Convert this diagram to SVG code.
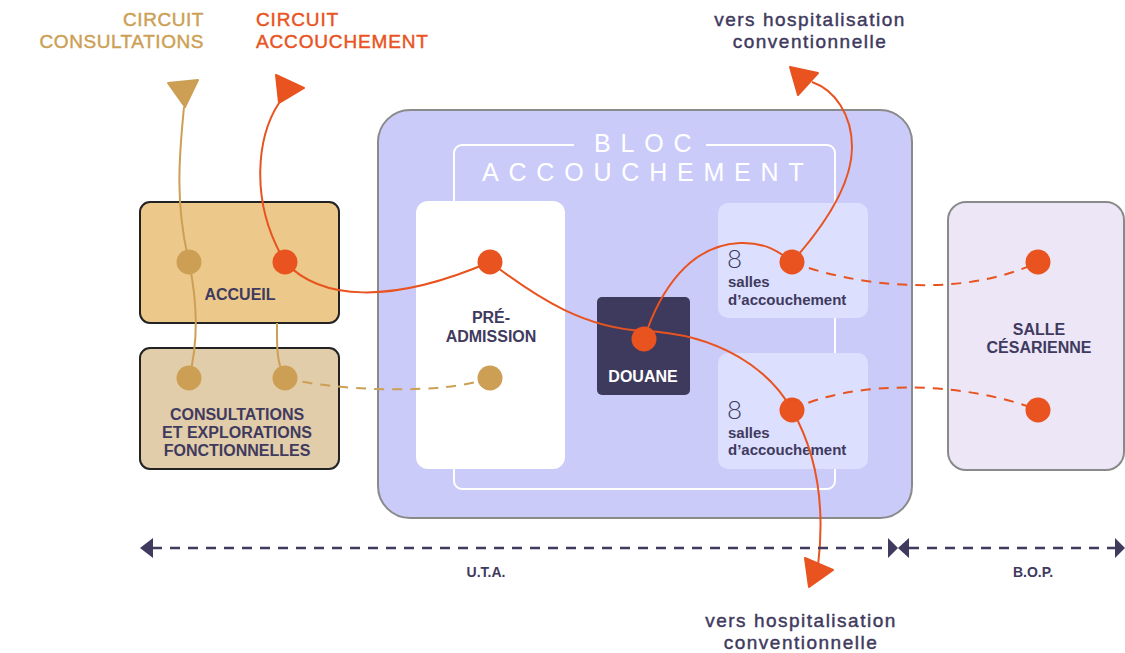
<svg xmlns="http://www.w3.org/2000/svg" width="1125" height="653" viewBox="0 0 1125 653">
<style>
.lbl{font-family:"Liberation Sans",Arial,sans-serif;font-weight:700;font-size:16px;fill:#3f3a5e;text-anchor:middle}
.sal{font-family:"Liberation Sans",Arial,sans-serif;font-weight:700;font-size:15px;fill:#3f3a5e}
.num{font-family:Lato,"Noto Sans",sans-serif;font-weight:300;font-size:26px;fill:#3f3a5e}
.ttl{font-family:"Liberation Sans",Arial,sans-serif;font-weight:400;font-size:19px;stroke-width:0.45}
.hosp{font-family:"Liberation Sans",Arial,sans-serif;font-weight:400;font-size:19px;fill:#3f3a5e;stroke:#3f3a5e;stroke-width:0.45;text-anchor:middle;letter-spacing:1.5px}
.bloc{font-family:"Liberation Sans",Arial,sans-serif;font-weight:400;font-size:25px;fill:#fff;letter-spacing:9.8px}
.ax{font-family:"Liberation Sans",Arial,sans-serif;font-weight:700;font-size:14px;fill:#3f3a5e;text-anchor:middle}
.or{fill:none;stroke:#e8531f;stroke-width:2}
.ord{fill:none;stroke:#e8531f;stroke-width:2;stroke-dasharray:10 8}
.go{fill:none;stroke:#cc9f55;stroke-width:2}
.god{fill:none;stroke:#cc9f55;stroke-width:2;stroke-dasharray:10 8}
.dor{fill:#e8531f}
.dgo{fill:#cc9f55}
.axl{fill:none;stroke:#3f3a5e;stroke-width:2.5;stroke-dasharray:10 8}
.axh{fill:#3f3a5e}
.ahd{stroke-linejoin:round;stroke-width:2}
</style>

<g id="titles">
<text class="ttl" x="204" y="26" text-anchor="end" fill="#cc9f55" stroke="#cc9f55" letter-spacing="0.55">CIRCUIT</text>
<text class="ttl" x="204" y="48" text-anchor="end" fill="#cc9f55" stroke="#cc9f55" letter-spacing="0.55">CONSULTATIONS</text>
<text class="ttl" x="256" y="26" fill="#e8531f" stroke="#e8531f" letter-spacing="0.85">CIRCUIT</text>
<text class="ttl" x="256" y="48" fill="#e8531f" stroke="#e8531f" letter-spacing="0.85">ACCOUCHEMENT</text>
<text class="hosp" x="810" y="26">vers hospitalisation</text>
<text class="hosp" x="810" y="48">conventionnelle</text>
<text class="hosp" x="801" y="627">vers hospitalisation</text>
<text class="hosp" x="801" y="649">conventionnelle</text>
</g>

<g id="bloc-accouchement">
<rect x="378" y="110" width="534" height="408" rx="32" fill="#cbcbfa" stroke="#8a8a8a" stroke-width="2"/>
<path d="M574,145 H462 A8,8 0 0 0 454,153 V481 A8,8 0 0 0 462,489 H827 A8,8 0 0 0 835,481 V153 A8,8 0 0 0 827,145 H706" fill="none" stroke="#fff" stroke-width="2"/>
<text class="bloc" x="594" y="152">BLOC</text>
<text class="bloc" x="482" y="181">ACCOUCHEMENT</text>
</g>

<g id="pre-admission">
<rect x="416" y="201" width="149" height="268" rx="12" fill="#fff"/>
<text class="lbl" x="491" y="323">PRÉ-</text>
<text class="lbl" x="491" y="342">ADMISSION</text>
</g>

<g id="douane">
<rect x="597" y="297" width="93" height="98" rx="5" fill="#3e3a5d"/>
<text class="lbl" x="643" y="382" style="fill:#fff">DOUANE</text>
</g>

<g id="salles-1">
<rect x="718" y="203" width="150" height="115" rx="10" fill="#dcdffe"/>
<text class="num" x="727" y="268">8</text>
<text class="sal" x="728" y="287">salles</text>
<text class="sal" x="728" y="305">d’accouchement</text>
</g>

<g id="salles-2">
<rect x="718" y="353" width="150" height="116" rx="10" fill="#dcdffe"/>
<text class="num" x="727" y="419">8</text>
<text class="sal" x="728" y="438">salles</text>
<text class="sal" x="728" y="455">d’accouchement</text>
</g>

<g id="salle-cesarienne">
<rect x="948" y="202" width="176" height="268" rx="18" fill="#ece6f6" stroke="#8a8a8a" stroke-width="2"/>
<text class="lbl" x="1039" y="335">SALLE</text>
<text class="lbl" x="1039" y="353">CÉSARIENNE</text>
</g>

<g id="accueil">
<rect x="140" y="202" width="199" height="121" rx="10" fill="#ecc98b" stroke="#222" stroke-width="2"/>
<text class="lbl" x="240" y="300">ACCUEIL</text>
</g>

<g id="consultations">
<rect x="140" y="348" width="199" height="121" rx="10" fill="#e2cdab" stroke="#222" stroke-width="2"/>
<text class="lbl" x="237" y="420">CONSULTATIONS</text>
<text class="lbl" x="237" y="438">ET EXPLORATIONS</text>
<text class="lbl" x="237" y="456">FONCTIONNELLES</text>
</g>

<g id="connectors">
<path class="go" d="M184,107 C180,150 174,200 189,262 C197,300 199,340 189,378"/>
<path class="go" d="M277,323 C277,345 276,362 285,378"/>
<path class="god" d="M285,378 C330,390 440,396 490,378"/>
<polygon class="dgo ahd" stroke="#cc9f55" points="168,83 198,80 185,107"/>
<path class="or" d="M279,103 C258,135 248,200 285,262 C320,300 390,305 490,262"/>
<path class="or" d="M490,262 C540,300 585,328 644,331 C720,334 770,370 792,410 C815,450 826,500 818,566"/>
<path class="or" d="M644,339 C660,290 690,245 740,243 C765,242 780,252 792,262"/>
<path class="or" d="M792,262 C825,225 852,185 852,147 C852,115 835,90 812,82"/>
<path class="ord" d="M792,262 C850,285 960,300 1038,262"/>
<path class="ord" d="M792,410 C850,380 960,380 1038,410"/>
<polygon class="dor ahd" stroke="#e8531f" points="276,75 304,88 279,103"/>
<polygon class="dor ahd" stroke="#e8531f" points="790,67 818,73 798,95"/>
<polygon class="dor ahd" stroke="#e8531f" points="805,558 833,570 809,587"/>
</g>

<g id="points">
<circle class="dgo" cx="189" cy="262" r="12.5"/>
<circle class="dgo" cx="189" cy="378" r="12.5"/>
<circle class="dgo" cx="285" cy="378" r="12.5"/>
<circle class="dgo" cx="490" cy="378" r="12.5"/>
<circle class="dor" cx="285" cy="262" r="12.5"/>
<circle class="dor" cx="490" cy="262" r="12.5"/>
<circle class="dor" cx="644" cy="339" r="12.5"/>
<circle class="dor" cx="792" cy="262" r="12.5"/>
<circle class="dor" cx="792" cy="410" r="12.5"/>
<circle class="dor" cx="1038" cy="262" r="12.5"/>
<circle class="dor" cx="1038" cy="410" r="12.5"/>
</g>

<g id="axis">
<line class="axl" x1="152" y1="548" x2="888" y2="548"/>
<line class="axl" x1="909" y1="548" x2="1115" y2="548"/>
<polygon class="axh" points="140,548 153,538 153,558"/>
<polygon class="axh" points="888,538 898,548 888,558"/>
<polygon class="axh" points="909,538 898,548 909,558"/>
<polygon class="axh" points="1125,548 1115,538 1115,558"/>
<text class="ax" x="486" y="577">U.T.A.</text>
<text class="ax" x="1033" y="577">B.O.P.</text>
</g>
</svg>
